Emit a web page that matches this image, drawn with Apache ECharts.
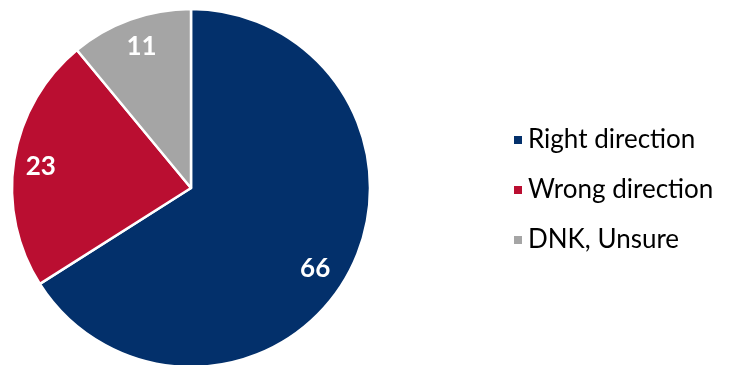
<!DOCTYPE html>
<html>
<head>
<meta charset="utf-8">
<script src="https://cdn.jsdelivr.net/npm/echarts@6/dist/echarts.min.js"></script>
<style>
  html, body { margin: 0; padding: 0; background: #ffffff; }
  #chart { width: 730px; height: 365px; }
</style>
</head>
<body>
<div id="chart"></div>
<script>
// Survey answers, percent of respondents
const categories = ['Right direction', 'Wrong direction', 'DNK, Unsure'];
const values = [66, 23, 11];
const colors = ['#03306B', '#BA0E31', '#A5A5A5'];

const pieData = categories.map((name, i) => ({
  name: name,
  value: values[i],
  itemStyle: { color: colors[i] }
}));

// nudge for each value label, relative to its ring midpoint
const labelNudge = [[-9, 7], [0, 2], [2, 2]];

const chart = echarts.init(document.getElementById('chart'), null, { renderer: 'canvas' });

chart.setOption({
  animation: false,
  legend: {
    orient: 'vertical',
    left: 507,
    top: 122,
    icon: 'rect',
    itemWidth: 10,
    itemHeight: 10,
    itemGap: 24,
    selectedMode: false,
    data: categories,
    textStyle: {
      fontFamily: 'Lato',
      fontSize: 26,
      lineHeight: 26,
      color: '#000000',
      padding: [0, 0, 0, 0]
    }
  },
  series: [
    {
      // the pie itself
      type: 'pie',
      center: [191, 188],
      radius: [0, 179],
      startAngle: 90,
      clockwise: true,
      silent: true,
      itemStyle: { borderColor: '#ffffff', borderWidth: 2.5 },
      label: { show: false },
      labelLine: { show: false },
      data: pieData
    },
    {
      // transparent ring that carries the value labels near the rim
      type: 'pie',
      center: [191, 188],
      radius: [119, 179],
      startAngle: 90,
      clockwise: true,
      silent: true,
      itemStyle: { color: 'rgba(0,0,0,0)', borderWidth: 0 },
      label: {
        show: true,
        position: 'inside',
        formatter: '{c}',
        color: '#ffffff',
        fontFamily: 'Lato',
        fontWeight: 'bold',
        fontSize: 26
      },
      labelLine: { show: false },
      data: categories.map((name, i) => ({
        name: name,
        value: values[i],
        label: { offset: labelNudge[i] }
      }))
    }
  ]
});
</script>
</body>
</html>
